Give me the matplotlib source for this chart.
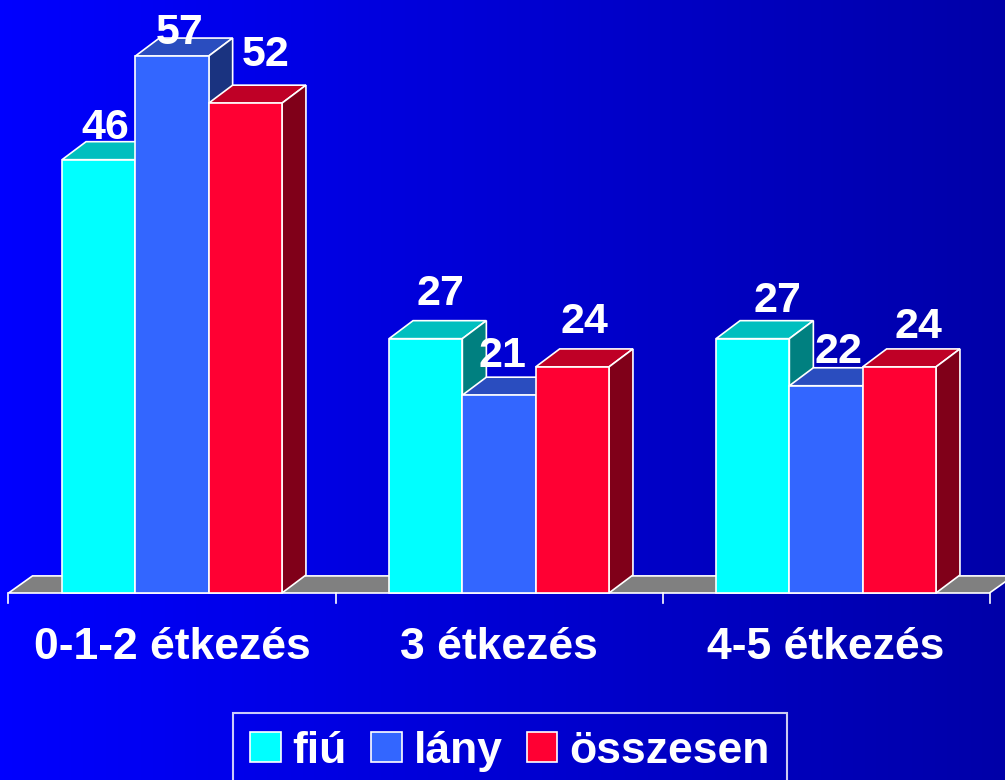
import numpy as np
import matplotlib
matplotlib.use("Agg")
import matplotlib.pyplot as plt
from matplotlib.patches import Polygon, Patch

# data
categories = ["0-1-2 étkezés", "3 étkezés", "4-5 étkezés"]
series = ["fiú", "lány", "összesen"]
fiu = [46, 27, 27]
lany = [57, 21, 22]
osszesen = [52, 24, 24]

# face colours: front, top, side
front = ["#00FFFF", "#3366FF", "#FF0033"]
top = ["#00BFBF", "#2A4DBF", "#BF0026"]
side = ["#008080", "#1A3380", "#800019"]

plt.rcParams['font.family'] = ['Liberation Sans', 'DejaVu Sans']

fig = plt.figure(figsize=(10.05, 7.8), dpi=100)
ax = fig.add_axes([0, 0, 1, 1])

# units: x = one bar width, y = one value unit
px_x = 73.3            # pixels per bar width
px_y = 9.42            # pixels per value unit
gap = 327 / px_x       # group spacing
x0 = 172 / px_x        # first group centre from left edge
y0 = 187 / px_y        # baseline from bottom edge
xlim = (-x0, 1005 / px_x - x0)
ylim = (-y0, 780 / px_y - y0)
ax.set_xlim(*xlim)
ax.set_ylim(*ylim)
ax.axis("off")

# background gradient, bright blue to dark navy
grad = np.linspace(0, 1, 256)
img = np.zeros((2, 256, 3))
img[:, :, 2] = (255 - 87 * grad) / 255
ax.imshow(img, extent=(*xlim, *ylim), aspect="auto", zorder=0)

dx = 24 / px_x
dy = 18 / px_y
ew = 1.2

# small label nudges (pixels, x right / y up) like the original's auto placement
label_shift = [[(-5, -4), (-4, -13), (8, 13)],
               [(3, 9), (-9, 4), (0, 9)],
               [(13, 2), (0, -2), (7, 4)]]

# floor
fl = -gap / 2
fr = 2 * gap + gap / 2
ax.add_patch(Polygon([(fl, 0), (fr, 0), (fr + dx, dy * 0.95), (fl + dx, dy * 0.95)],
                     closed=True, facecolor="#808080", edgecolor="white", lw=ew, zorder=1))
for b in range(4):
    xb = fl + b * gap
    ax.plot([xb, xb], [0, -10 / px_y], color="white", lw=ew, zorder=1)

values = [fiu, lany, osszesen]
for g in range(len(categories)):
    c = g * gap
    for s in range(3):
        v = values[s][g]
        l = c - 1.5 + s
        r = l + 1
        ax.add_patch(Polygon([(l, v), (r, v), (r + dx, v + dy), (l + dx, v + dy)],
                             closed=True, facecolor=top[s], edgecolor="white", lw=ew, zorder=2))
        ax.add_patch(Polygon([(r, 0), (r + dx, dy), (r + dx, v + dy), (r, v)],
                             closed=True, facecolor=side[s], edgecolor="white", lw=ew, zorder=2))
        ax.add_patch(Polygon([(l, 0), (r, 0), (r, v), (l, v)],
                             closed=True, facecolor=front[s], edgecolor="white", lw=ew, zorder=2))
        sx, sy = label_shift[g][s]
        ax.text(l + 0.5 + dx / 2 + sx / px_x, v + dy + 0.7 + sy / px_y, str(v),
                color="white", fontsize=31, fontweight="bold",
                ha="center", va="baseline", zorder=3)
    ax.text(c, -66 / px_y, categories[g], color="white", fontsize=32,
            fontweight="bold", ha="center", va="baseline", zorder=3)

handles = [Patch(facecolor=front[i], edgecolor="white", lw=1.2, label=series[i]) for i in range(3)]
leg = fig.legend(handles=handles, loc="upper center", bbox_to_anchor=(510 / 1005, 67 / 780),
                 ncol=3, frameon=True, fancybox=False, facecolor="none", edgecolor="white",
                 prop={"size": 32, "weight": "bold"}, labelcolor="white",
                 handlelength=0.68, handleheight=0.68, handletextpad=0.27,
                 columnspacing=0.55, borderpad=0.4, borderaxespad=0)
leg.get_frame().set_linewidth(1.5)

fig.savefig("out.png", dpi=100)
